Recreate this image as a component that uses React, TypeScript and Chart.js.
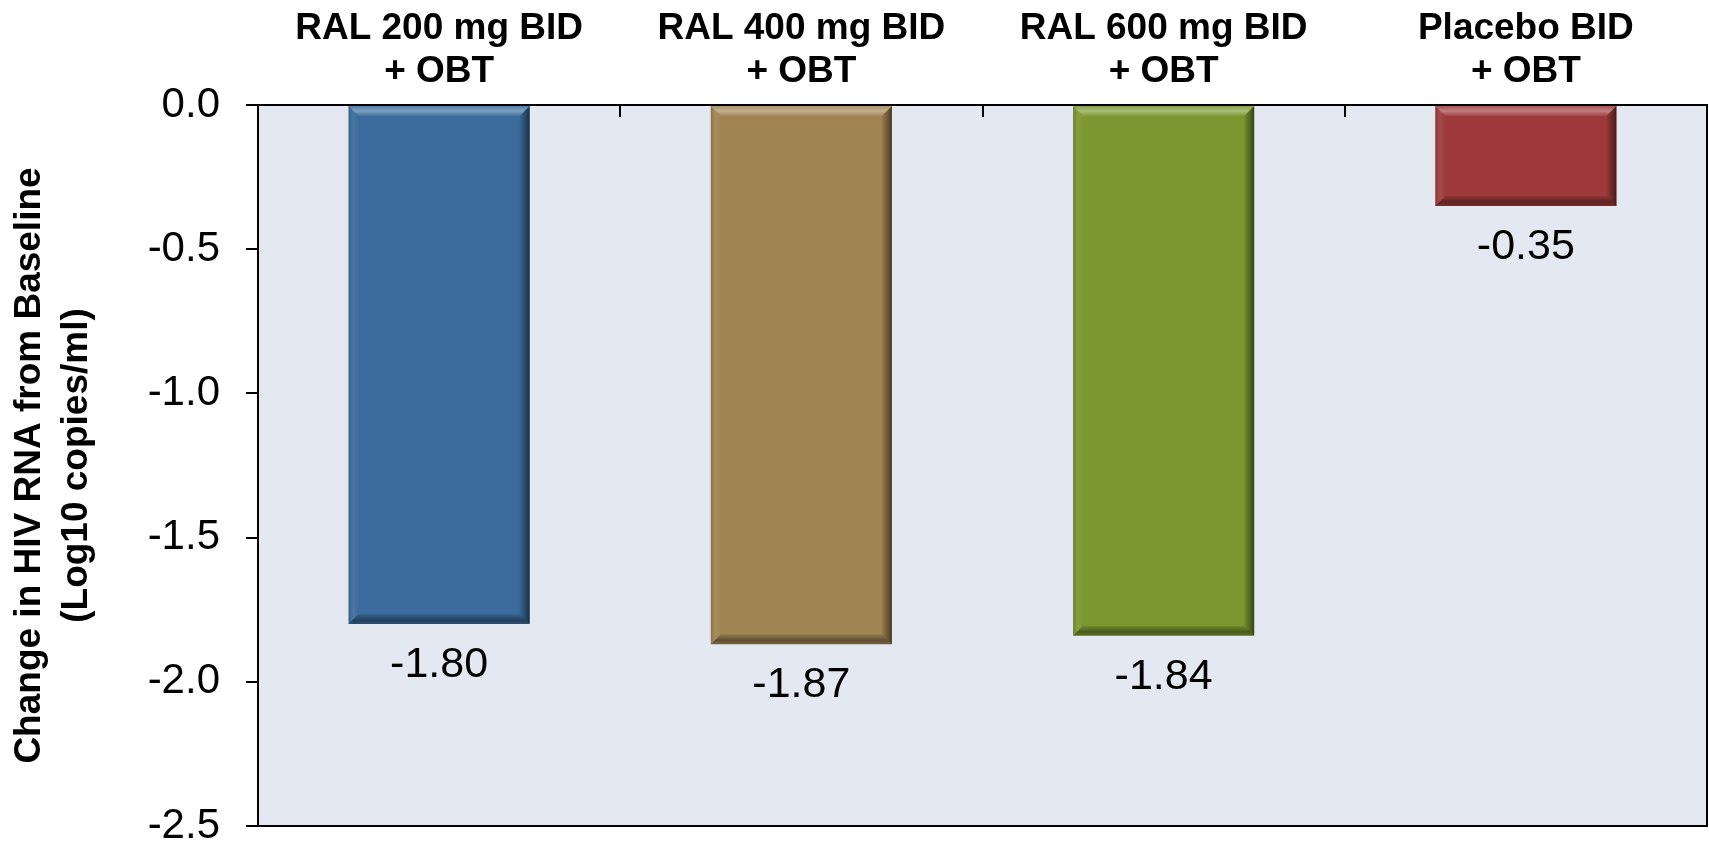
import React, { useEffect, useRef } from "react";
import { Chart, registerables } from "chart.js";

Chart.register(...registerables);

const categories: string[][] = [
  ["RAL 200 mg BID", "+ OBT"],
  ["RAL 400 mg BID", "+ OBT"],
  ["RAL 600 mg BID", "+ OBT"],
  ["Placebo BID", "+ OBT"],
];
const values: number[] = [-1.8, -1.87, -1.84, -0.35];
const valueLabels: string[] = ["-1.80", "-1.87", "-1.84", "-0.35"];
const barColors: string[] = ["#3A6B9C", "#A08452", "#7A982F", "#9E3A3B"];
const yTitle: string[] = ["Change in HIV RNA from Baseline", "(Log10 copies/ml)"];
const yMin = -2.5;
const yMax = 0;
const yStep = 0.5;

const FONT = "'Liberation Sans', Arial, sans-serif";
const PLOT_BG = "#E4E8F0";

const backgroundPlugin = {
  id: "plotBackground",
  beforeDraw(chart: any) {
    const { ctx, chartArea } = chart;
    ctx.save();
    ctx.fillStyle = PLOT_BG;
    ctx.fillRect(chartArea.left, chartArea.top, chartArea.right - chartArea.left, chartArea.bottom - chartArea.top);
    ctx.restore();
  },
};

const bevelPlugin = {
  id: "bevel",
  afterDatasetsDraw(chart: any) {
    const { ctx } = chart;
    const meta = chart.getDatasetMeta(0);
    meta.data.forEach((bar: any) => {
      const { x, y, base, width } = bar.getProps(["x", "y", "base", "width"], true);
      const l = x - width / 2;
      const r = x + width / 2;
      const t = Math.min(y, base);
      const b = Math.max(y, base);
      const s = 10;
      ctx.save();
      // top
      let g = ctx.createLinearGradient(0, t, 0, t + s);
      g.addColorStop(0, "rgba(255,255,255,0.12)");
      g.addColorStop(0.5, "rgba(255,255,255,0.35)");
      g.addColorStop(1, "rgba(255,255,255,0.05)");
      ctx.fillStyle = g;
      ctx.beginPath();
      ctx.moveTo(l, t);
      ctx.lineTo(r, t);
      ctx.lineTo(r - s, t + s);
      ctx.lineTo(l + s, t + s);
      ctx.closePath();
      ctx.fill();
      // left
      g = ctx.createLinearGradient(l, 0, l + s, 0);
      g.addColorStop(0, "rgba(0,0,0,0.15)");
      g.addColorStop(0.5, "rgba(255,255,255,0.08)");
      g.addColorStop(1, "rgba(255,255,255,0)");
      ctx.fillStyle = g;
      ctx.beginPath();
      ctx.moveTo(l, t);
      ctx.lineTo(l + s, t + s);
      ctx.lineTo(l + s, b - s);
      ctx.lineTo(l, b);
      ctx.closePath();
      ctx.fill();
      // right
      g = ctx.createLinearGradient(r - s, 0, r, 0);
      g.addColorStop(0, "rgba(0,0,0,0.05)");
      g.addColorStop(1, "rgba(0,0,0,0.55)");
      ctx.fillStyle = g;
      ctx.beginPath();
      ctx.moveTo(r, t);
      ctx.lineTo(r, b);
      ctx.lineTo(r - s, b - s);
      ctx.lineTo(r - s, t + s);
      ctx.closePath();
      ctx.fill();
      // bottom
      g = ctx.createLinearGradient(0, b - s, 0, b);
      g.addColorStop(0, "rgba(0,0,0,0.08)");
      g.addColorStop(0.6, "rgba(0,0,0,0.4)");
      g.addColorStop(1, "rgba(0,0,0,0.25)");
      ctx.fillStyle = g;
      ctx.beginPath();
      ctx.moveTo(l, b);
      ctx.lineTo(r, b);
      ctx.lineTo(r - s, b - s);
      ctx.lineTo(l + s, b - s);
      ctx.closePath();
      ctx.fill();
      ctx.restore();
    });
  },
};

const valueLabelPlugin = {
  id: "valueLabels",
  afterDatasetsDraw(chart: any) {
    const { ctx } = chart;
    const meta = chart.getDatasetMeta(0);
    ctx.save();
    ctx.fillStyle = "#000";
    ctx.font = `43px ${FONT}`;
    ctx.textAlign = "center";
    ctx.textBaseline = "alphabetic";
    meta.data.forEach((bar: any, i: number) => {
      const { x, y } = bar.getProps(["x", "y"], true);
      ctx.fillText(valueLabels[i], x, y + 53);
    });
    ctx.restore();
  },
};

const framePlugin = {
  id: "frame",
  afterDraw(chart: any) {
    const { ctx, chartArea } = chart;
    ctx.save();
    ctx.strokeStyle = "#000";
    ctx.lineWidth = 2;
    ctx.beginPath();
    ctx.moveTo(chartArea.left, chartArea.top);
    ctx.lineTo(chartArea.right, chartArea.top);
    ctx.lineTo(chartArea.right, chartArea.bottom);
    ctx.lineTo(chartArea.left, chartArea.bottom);
    ctx.closePath();
    ctx.stroke();
    ctx.restore();
  },
};

export default function App() {
  const ref = useRef<HTMLCanvasElement | null>(null);

  useEffect(() => {
    if (!ref.current) return;
    const chart = new Chart(ref.current, {
      type: "bar",
      data: {
        labels: categories,
        datasets: [
          {
            data: values,
            backgroundColor: barColors,
            borderWidth: 0,
            barPercentage: 0.5,
            categoryPercentage: 1.0,
          },
        ],
      },
      options: {
        animation: false,
        responsive: true,
        maintainAspectRatio: false,
        layout: { padding: { left: 0, right: 2, top: 0, bottom: 16 } },
        plugins: {
          legend: { display: false },
          tooltip: { enabled: false },
        },
        scales: {
          x: {
            position: "top",
            afterFit: (scale: any) => {
              scale.height = 105;
            },
            grid: {
              offset: true,
              drawOnChartArea: false,
              drawTicks: true,
              tickLength: -12,
              color: "#000",
              lineWidth: 2,
            },
            border: { display: true, color: "#000", width: 2 },
            ticks: {
              color: "#000",
              padding: 24,
              maxRotation: 0,
              autoSkip: false,
              font: { family: FONT, size: 37, weight: "bold", lineHeight: 1.16 },
            },
          },
          y: {
            min: yMin,
            max: yMax,
            afterFit: (scale: any) => {
              scale.width = 258;
              scale.paddingTop = 0;
              scale.paddingBottom = 0;
            },
            grid: {
              drawOnChartArea: false,
              drawTicks: true,
              tickLength: 12,
              color: "#000",
              lineWidth: 2,
            },
            border: { display: true, color: "#000", width: 2 },
            ticks: {
              stepSize: yStep,
              color: "#000",
              padding: 26,
              font: { family: FONT, size: 42 },
              callback: (v: any) => Number(v).toFixed(1),
            },
            title: {
              display: true,
              text: yTitle,
              color: "#000",
              padding: { top: 6, bottom: 0 },
              font: { family: FONT, size: 37, weight: "bold", lineHeight: 1.27 },
            },
          },
        },
      },
      plugins: [backgroundPlugin, bevelPlugin, valueLabelPlugin, framePlugin],
    } as any);
    return () => chart.destroy();
  }, []);

  return (
    <div style={{ position: "absolute", left: 0, top: 0, width: 1709, height: 842, background: "#fff" }}>
      <canvas ref={ref} />
    </div>
  );
}
